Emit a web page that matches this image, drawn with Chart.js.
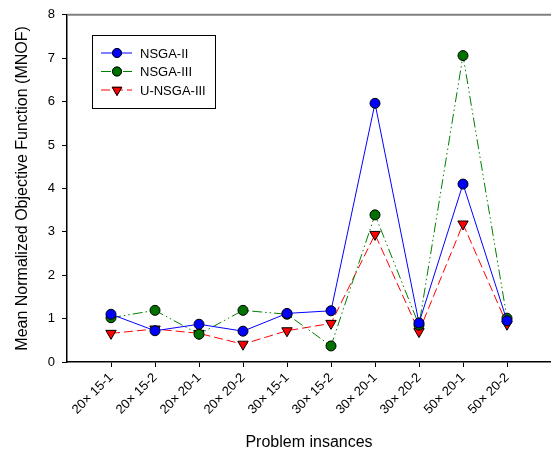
<!DOCTYPE html>
<html>
<head>
<meta charset="utf-8">
<script src="https://cdn.jsdelivr.net/npm/chart.js@4/dist/chart.umd.min.js"></script>
<style>
  html, body { margin: 0; padding: 0; background: #fff; }
  #wrap { width: 551px; height: 454px; }
</style>
</head>
<body>
<div id="wrap"><canvas id="chart"></canvas></div>
<script>
'use strict'

const problemLabels = [
  '20× 15-1', '20× 15-2', '20× 20-1', '20× 20-2', '30× 15-1',
  '30× 15-2', '30× 20-1', '30× 20-2', '50× 20-1', '50× 20-2'
]
const nsga2Values = [1.10, 0.72, 0.87, 0.71, 1.12, 1.18, 5.96, 0.90, 4.10, 0.95]
const nsga3Values = [1.02, 1.19, 0.64, 1.19, 1.10, 0.37, 3.39, 0.85, 7.06, 1.01]
const unsga3Values = [0.66, 0.76, 0.66, 0.41, 0.72, 0.89, 2.94, 0.70, 3.18, 0.87]
const yTicks = [0, 1, 2, 3, 4, 5, 6, 7, 8]

const FONT = 'Liberation Sans, Arial, sans-serif'

function toPoints (values) {
  return values.map((v, i) => ({ x: i + 1, y: v }))
}

// legend drawn inside the plot, with a frame
const boxLegend = {
  id: 'boxLegend',
  afterDatasetsDraw (chart) {
    const ctx = chart.ctx
    const left = 92
    const top = 35
    ctx.save()
    ctx.strokeStyle = '#000'
    ctx.lineWidth = 1
    ctx.fillStyle = '#fff'
    ctx.fillRect(left + 0.5, top + 0.5, 123, 73)
    ctx.strokeRect(left + 0.5, top + 0.5, 123, 73)
    chart.data.datasets.forEach((ds, i) => {
      const y = top + 18 + i * 18.5
      ctx.beginPath()
      ctx.setLineDash(ds.borderDash || [])
      ctx.strokeStyle = ds.borderColor
      ctx.lineWidth = ds.borderWidth
      ctx.moveTo(left + 9, y)
      ctx.lineTo(left + 40, y)
      ctx.stroke()
      ctx.setLineDash([])
      Chart.helpers.drawPoint(ctx, {
        pointStyle: ds.pointStyle,
        radius: ds.pointRadius - 0.5,
        rotation: ds.pointRotation || 0,
        borderWidth: ds.pointBorderWidth
      }, left + 25, y)
      ctx.fillStyle = ds.pointBackgroundColor
      ctx.strokeStyle = '#000'
      ctx.lineWidth = ds.pointBorderWidth
      ctx.fill()
      ctx.stroke()
      ctx.fillStyle = '#000'
      ctx.font = '13px ' + FONT
      ctx.textBaseline = 'middle'
      ctx.textAlign = 'left'
      ctx.fillText(ds.label, left + 48, y + 1)
    })
    ctx.restore()
  }
}

// grey line along the top of the plot
const topLine = {
  id: 'topLine',
  beforeDatasetsDraw (chart) {
    const { ctx, chartArea } = chart
    ctx.save()
    ctx.strokeStyle = '#808080'
    ctx.lineWidth = 2
    ctx.beginPath()
    ctx.moveTo(chartArea.left, chartArea.top)
    ctx.lineTo(chart.width, chartArea.top)
    ctx.stroke()
    ctx.restore()
  }
}

function renderChart () {
  const context = document.getElementById('chart').getContext('2d')
  new Chart(context, {
    type: 'line',
    data: {
      datasets: [
        {
          label: 'NSGA-II',
          data: toPoints(nsga2Values),
          borderColor: '#0000ff',
          borderWidth: 1,
          pointStyle: 'circle',
          pointRadius: 5,
          pointBackgroundColor: '#0000ff',
          pointBorderColor: '#000',
          pointBorderWidth: 1
        },
        {
          label: 'NSGA-III',
          data: toPoints(nsga3Values),
          borderColor: '#008000',
          borderWidth: 1,
          borderDash: [10, 3, 1.5, 3, 1.5, 3],
          pointStyle: 'circle',
          pointRadius: 5,
          pointBackgroundColor: '#007200',
          pointBorderColor: '#000',
          pointBorderWidth: 1
        },
        {
          label: 'U-NSGA-III',
          data: toPoints(unsga3Values),
          borderColor: '#ff0000',
          borderWidth: 1,
          borderDash: [9, 4],
          pointStyle: 'triangle',
          pointRotation: 180,
          pointRadius: 6,
          pointBackgroundColor: '#ff0000',
          pointBorderColor: '#000',
          pointBorderWidth: 1
        }
      ]
    },
    options: {
      responsive: true,
      maintainAspectRatio: false,
      animation: false,
      layout: { autoPadding: false, padding: { top: 13, right: 0, left: 0, bottom: 0 } },
      plugins: {
        legend: { display: false },
        tooltip: { enabled: false }
      },
      scales: {
        x: {
          type: 'linear',
          min: 0,
          max: 11,
          afterBuildTicks: scale => {
            scale.ticks = problemLabels.map((_, i) => ({ value: i + 1 }))
          },
          afterFit: scale => { scale.height = 92 },
          grid: {
            drawOnChartArea: false,
            drawTicks: true,
            tickLength: 5,
            color: '#000'
          },
          border: { color: '#000', width: 1.5 },
          ticks: {
            autoSkip: false,
            minRotation: 45,
            maxRotation: 45,
            padding: 3,
            color: '#000',
            font: { family: FONT, size: 13 },
            callback: value => problemLabels[value - 1] || ''
          },
          title: {
            display: true,
            text: 'Problem insances',
            color: '#000',
            font: { family: FONT, size: 16 },
            padding: { top: 0, bottom: 2 }
          }
        },
        y: {
          min: 0,
          max: 8,
          afterBuildTicks: scale => {
            scale.ticks = yTicks.map(v => ({ value: v }))
          },
          afterFit: scale => { scale.width = 67 },
          grid: {
            drawOnChartArea: false,
            drawTicks: true,
            tickLength: 5,
            color: '#000'
          },
          border: { color: '#000', width: 1.5 },
          ticks: {
            padding: 7,
            color: '#000',
            font: { family: FONT, size: 13 }
          },
          title: {
            display: true,
            text: 'Mean Normalized Objective Function (MNOF)',
            color: '#000',
            font: { family: FONT, size: 16 },
            padding: { top: 13, bottom: 0 }
          }
        }
      }
    },
    plugins: [topLine, boxLegend]
  })
}

renderChart()
</script>
</body>
</html>
